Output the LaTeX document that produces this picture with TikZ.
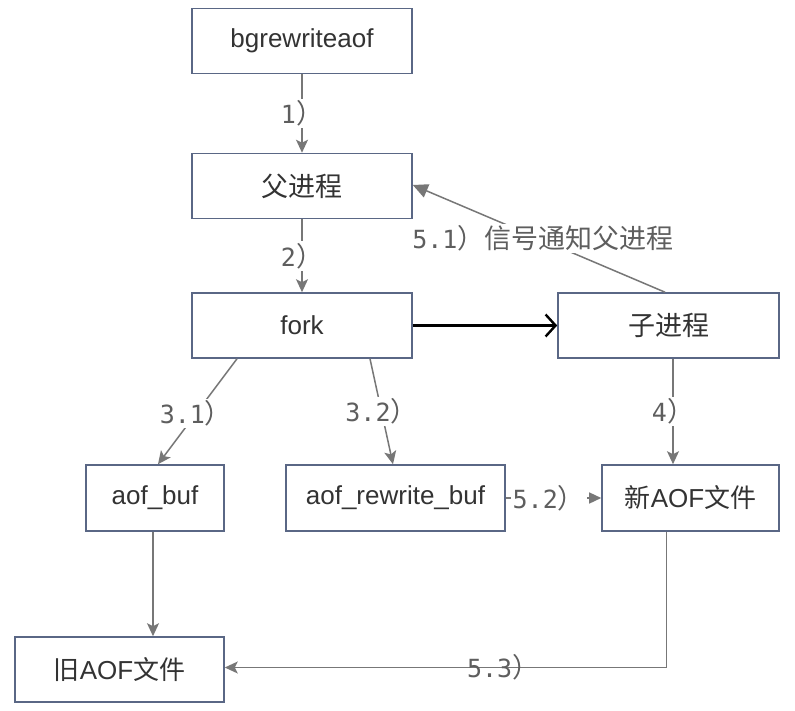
\documentclass[tikz,border=0pt]{standalone}
\usepackage{fontspec}
\setmainfont{Liberation Sans}
\newfontfamily\cjk{Noto Sans CJK SC}
\newfontfamily\dmono{DejaVu Sans Mono}
\usetikzlibrary{arrows.meta}
\definecolor{boxc}{HTML}{5A6785}
\definecolor{linec}{HTML}{777777}
\definecolor{txtc}{HTML}{333333}
\definecolor{labc}{HTML}{5E5E5E}
\newcommand\numlab[1]{{\dmono\fontsize{25}{28}\selectfont #1}}
\begin{document}
\begin{tikzpicture}[x=1pt,y=-1pt,
  box/.style={draw=boxc, line width=1.6pt, fill=white, minimum height=65pt, inner sep=0pt, text=txtc, font=\fontsize{26}{30}\selectfont},
  conn/.style={draw=linec, line width=1.5pt, -{Stealth[length=13pt,width=12pt,inset=3pt]}},
  lab/.style={fill=white, inner sep=2pt, text=labc, font=\cjk\fontsize{27}{30}\selectfont},
  labnf/.style={inner sep=2pt, text=labc, font=\cjk\fontsize{27}{30}\selectfont}]
\fill[white] (0,0) rectangle (795,711);
\useasboundingbox (0,0) rectangle (795,711);

\node[box, minimum width=220pt] (bg) at (302,41) {bgrewriteaof};
\node[box, minimum width=220pt] (fa) at (302,186) {\cjk\fontsize{27}{30}\selectfont 父进程};
\node[box, minimum width=220pt] (fk) at (302,325.5) {fork};
\node[box, minimum width=221pt] (zi) at (668.5,325.5) {\cjk\fontsize{27}{30}\selectfont 子进程};
\node[box, minimum width=138pt, minimum height=66pt] (ab) at (155,498) {aof\_buf};
\node[box, minimum width=219pt, minimum height=66pt] (arb) at (395.5,498) {aof\_rewrite\_buf};
\node[box, minimum width=177pt, minimum height=66pt] (xin) at (690.5,498) {{\cjk 新}AOF{\cjk 文件}};
\node[box, minimum width=209pt] (jiu) at (119.5,669.5) {{\cjk 旧}AOF{\cjk 文件}};

\draw[conn] (bg) -- node[lab] {\numlab{1}）} (fa);
\draw[conn] (fa) -- node[lab] {\numlab{2}）} (fk);
\draw[black, line width=2.4pt, -{Straight Barb[length=10pt,width=22pt]}] (fk) -- (zi);
\draw[conn, -{Triangle[length=15pt,width=14pt]}] ([xshift=-3.5pt]zi.north) -- node[lab, xshift=4pt] {\numlab{5.1}）信号通知父进程} ([yshift=1pt]fa.east);
\draw[conn] ([xshift=-65pt]fk.south) -- node[lab, pos=0.52] {\numlab{3.1}）} ([xshift=3pt]ab.north);
\draw[conn] ([xshift=68pt]fk.south) -- node[lab, pos=0.5] {\numlab{3.2}）} ([xshift=-2.5pt]arb.north);
\draw[conn] ([xshift=4.5pt]zi.south) -- node[lab] {\numlab{4}）} ([xshift=4.5pt]zi.south |- xin.north);
\draw[conn, -{Triangle[length=12pt,width=11pt]}] (arb) -- node[lab, pos=0.45] {\numlab{5.2}）} (xin);
\draw[conn] ([xshift=-2pt]ab.south) -- ([xshift=-2pt]ab.south |- jiu.north);
\draw[conn] ([xshift=-24pt]xin.south) |- node[labnf, pos=0.685] {\numlab{5.3}）} ([yshift=2pt]jiu.east);
\end{tikzpicture}
\end{document}
